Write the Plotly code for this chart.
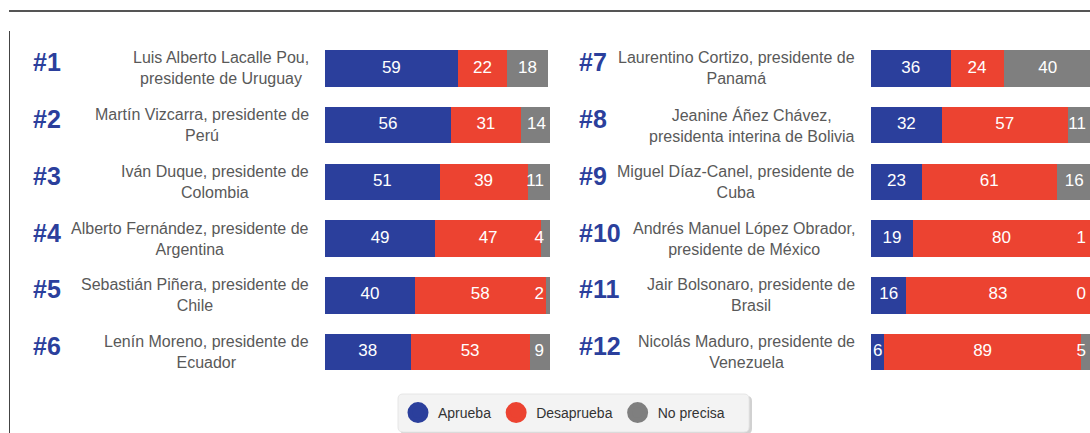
import plotly.graph_objects as go

W, H = 1090, 433

# ---------------- data ----------------
left_ranks = ["#1", "#2", "#3", "#4", "#5", "#6"]
left_names = [
    "Luis Alberto Lacalle Pou,<br>presidente de Uruguay",
    "Martín Vizcarra, presidente de<br>Perú",
    "Iván Duque, presidente de<br>Colombia",
    "Alberto Fernández, presidente de<br>Argentina",
    "Sebastián Piñera, presidente de<br>Chile",
    "Lenín Moreno, presidente de<br>Ecuador",
]
left_aprueba = [59, 56, 51, 49, 40, 38]
left_desaprueba = [22, 31, 39, 47, 58, 53]
left_noprecisa = [18, 14, 11, 4, 2, 9]

right_ranks = ["#7", "#8", "#9", "#10", "#11", "#12"]
right_names = [
    "Laurentino Cortizo, presidente de<br>Panamá",
    "Jeanine Áñez Chávez,<br>presidenta interina de Bolivia",
    "Miguel Díaz-Canel, presidente de<br>Cuba",
    "Andrés Manuel López Obrador,<br>presidente de México",
    "Jair Bolsonaro, presidente de<br>Brasil",
    "Nicolás Maduro, presidente de<br>Venezuela",
]
right_aprueba = [36, 32, 23, 19, 16, 6]
right_desaprueba = [24, 57, 61, 80, 83, 89]
right_noprecisa = [40, 11, 16, 1, 0, 5]

series_names = ["Aprueba", "Desaprueba", "No precisa"]
colors = ["#2B3F9C", "#EC4331", "#7F7F7F"]

FONT = "Arial, 'Liberation Sans', sans-serif"


def px(x):
    return x / W


def py(y):
    return 1 - y / H


fig = go.Figure()

panels = [
    ("x", "y", left_ranks, left_names, [left_aprueba, left_desaprueba, left_noprecisa]),
    ("x2", "y2", right_ranks, right_names, [right_aprueba, right_desaprueba, right_noprecisa]),
]

annotations = []
for xa, ya, ranks, names, vals in panels:
    rows = list(range(len(ranks)))
    for s, (name, col, v) in enumerate(zip(series_names, colors, vals)):
        fig.add_trace(go.Bar(
            x=v, y=rows, orientation="h", name=name, marker=dict(color=col, line=dict(width=0)),
            width=0.645, xaxis=xa, yaxis=ya, showlegend=False, hoverinfo="skip",
        ))
    # segment labels
    for s in range(3):
        xs, ys, ts, pos = [], [], [], []
        for r in rows:
            start = sum(vals[k][r] for k in range(s))
            v = vals[s][r]
            center = start + v / 2
            if s == 2 and v <= 11:
                xs.append(97.3)
                pos.append("middle left")
            else:
                xs.append(center)
                pos.append("middle center")
            ys.append(r)
            ts.append(str(v))
        fig.add_trace(go.Scatter(
            x=xs, y=ys, text=ts, mode="text", textposition=pos,
            textfont=dict(color="white", size=17, family=FONT),
            xaxis=xa, yaxis=ya, showlegend=False, hoverinfo="skip", cliponaxis=False,
        ))
    xdom = "x domain" if xa == "x" else "x2 domain"
    for r, (rk, nm) in enumerate(zip(ranks, names)):
        annotations.append(dict(
            xref=xdom, yref=ya, x=0, y=r, xshift=-294, yshift=6, xanchor="left", yanchor="middle",
            text="<b>%s</b>" % rk, showarrow=False,
            font=dict(family=FONT, size=25, color="#2B3F9C"),
        ))
        annotations.append(dict(
            xref=xdom, yref=ya, x=0, y=r, xshift=-14, xanchor="right", yanchor="middle",
            align="center", text=nm, showarrow=False,
            font=dict(family=FONT, size=16, color="#595959"),
        ))

# legend entries (circle markers)
for name, col in zip(series_names, colors):
    fig.add_trace(go.Scatter(
        x=[None], y=[None], mode="markers", name=name,
        marker=dict(color=col, size=16, symbol="circle", line=dict(color=col, width=5)),
        xaxis="x", yaxis="y", showlegend=True,
    ))


def rounded_rect(x0, y0, x1, y1, r):
    X = lambda x: px(x)
    Y = lambda y: py(y)
    return (f"M {X(x0 + r)} {Y(y0)} L {X(x1 - r)} {Y(y0)} Q {X(x1)} {Y(y0)} {X(x1)} {Y(y0 + r)} "
            f"L {X(x1)} {Y(y1 - r)} Q {X(x1)} {Y(y1)} {X(x1 - r)} {Y(y1)} "
            f"L {X(x0 + r)} {Y(y1)} Q {X(x0)} {Y(y1)} {X(x0)} {Y(y1 - r)} "
            f"L {X(x0)} {Y(y0 + r)} Q {X(x0)} {Y(y0)} {X(x0 + r)} {Y(y0)} Z")


shapes = [
    # top rule
    dict(type="line", xref="paper", yref="paper", x0=px(9), x1=1, y0=py(11), y1=py(11),
         line=dict(color="#555555", width=2)),
    # left rule
    dict(type="line", xref="paper", yref="paper", x0=px(9.5), x1=px(9.5), y0=py(31), y1=0,
         line=dict(color="#444444", width=1)),
    # legend shadow and box
    dict(type="path", xref="paper", yref="paper", path=rounded_rect(400, 396, 752, 434, 5),
         fillcolor="rgba(0,0,0,0.18)", line=dict(width=0), layer="below"),
    dict(type="path", xref="paper", yref="paper", path=rounded_rect(398, 394, 749, 432, 5),
         fillcolor="#F3F3F3", line=dict(color="#E6E6E6", width=1), layer="below"),
]

ydom = [py(380.3), py(40.1)]
fig.update_layout(
    width=W, height=H,
    margin=dict(l=0, r=0, t=0, b=0),
    paper_bgcolor="white", plot_bgcolor="rgba(0,0,0,0)",
    barmode="stack",
    xaxis=dict(domain=[px(325), px(550)], range=[0, 100], visible=False, fixedrange=True),
    xaxis2=dict(domain=[px(871), 1.0], range=[0, 219 / 2.21], visible=False, anchor="y2", fixedrange=True),
    yaxis=dict(domain=ydom, range=[5.5, -0.5], visible=False, fixedrange=True),
    yaxis2=dict(domain=ydom, range=[5.5, -0.5], visible=False, anchor="x2", fixedrange=True),
    showlegend=True,
    legend=dict(orientation="h", x=px(398), xanchor="left", y=py(413), yanchor="middle",
                traceorder="normal",
                bgcolor="rgba(0,0,0,0)", borderwidth=0,
                font=dict(family=FONT, size=14, color="#333333")),
    annotations=annotations,
    shapes=shapes,
    font=dict(family=FONT),
)

fig.write_html(
    "out.html",
    config={"displayModeBar": False},
    post_script="document.body.style.margin='0px';document.body.style.overflow='hidden';",
)
